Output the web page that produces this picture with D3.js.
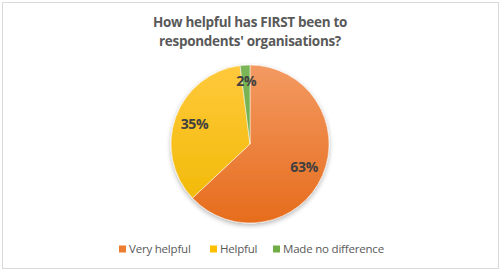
<!DOCTYPE html>
<html>
<head>
  <title>How helpful has FIRST been</title>
  <script src="https://cdnjs.cloudflare.com/ajax/libs/d3/7.8.5/d3.min.js"></script>
  <style>
    body { margin: 0; background: #fff; }
    text { font-family: "Open Sans", "DejaVu Sans", sans-serif; }
  </style>
</head>
<body>
<svg width="500" height="272" class="svg-pie"></svg>
<script type="text/javascript">
  var categories = ['Very helpful', 'Helpful', 'Made no difference']
  var values = [63, 35, 2]
  var labels = ['63%', '35%', '2%']
  var titleLines = ['How helpful has FIRST been to', "respondents' organisations?"]

  var colorsTop = ['#f39a62', '#ffc93c', '#7bb657']
  var colorsBottom = ['#e66c1c', '#f0b800', '#6aa843']
  var swatch = ['#ed7d31', '#ffc000', '#70ad47']

  var svg = d3.select('.svg-pie')
  var width = +svg.attr('width')
  var height = +svg.attr('height')

  // frame
  svg.append('rect')
    .attr('x', 2.5).attr('y', 2.5)
    .attr('width', width - 4).attr('height', height - 6)
    .attr('fill', '#fff')
    .attr('stroke', '#d9d9d9')

  var defs = svg.append('defs')
  categories.forEach(function(c, i){
    var g = defs.append('linearGradient')
      .attr('id', 'grad' + i)
      .attr('gradientUnits', 'userSpaceOnUse')
      .attr('x1', 0).attr('y1', -80).attr('x2', 0).attr('y2', 80)
    g.append('stop').attr('offset', '0%').attr('stop-color', colorsTop[i])
    g.append('stop').attr('offset', '100%').attr('stop-color', colorsBottom[i])
  })

  var shadow = defs.append('filter').attr('id', 'shadow')
    .attr('x', '-20%').attr('y', '-20%').attr('width', '140%').attr('height', '140%')
  shadow.append('feGaussianBlur').attr('in', 'SourceAlpha').attr('stdDeviation', 2.5)
  shadow.append('feOffset').attr('dx', 0).attr('dy', 2).attr('result', 'blur')
  shadow.append('feComponentTransfer').append('feFuncA').attr('type', 'linear').attr('slope', 0.3)
  var merge = shadow.append('feMerge')
  merge.append('feMergeNode')
  merge.append('feMergeNode').attr('in', 'SourceGraphic')

  // title
  svg.append('g').selectAll('text')
    .data(titleLines)
    .enter()
    .append('text')
    .attr('x', 250)
    .attr('y', function(d, i){ return 27 + i * 19 })
    .attr('text-anchor', 'middle')
    .attr('font-size', 13.5)
    .attr('letter-spacing', -0.3)
    .attr('font-weight', 'bold')
    .attr('fill', '#595959')
    .text(function(d){ return d })

  // pie
  var cx = 250, cy = 144, r = 79
  var pie = d3.pie().sort(null).value(function(d){ return d })
  var arcs = pie(values)
  var arc = d3.arc().innerRadius(0).outerRadius(r)
  var labelArc = d3.arc().innerRadius(59).outerRadius(59)

  var g = svg.append('g').attr('transform', 'translate(' + cx + ',' + cy + ')')
  var slices = g.append('g').attr('filter', 'url(#shadow)')
  slices.selectAll('path')
    .data(arcs)
    .enter()
    .append('path')
    .attr('d', arc)
    .attr('fill', function(d, i){ return 'url(#grad' + i + ')' })
    .attr('stroke', '#fff')
    .attr('stroke-width', 0.5)

  g.selectAll('text.lbl')
    .data(arcs)
    .enter()
    .append('text')
    .attr('class', 'lbl')
    .attr('transform', function(d){
      var c = labelArc.centroid(d)
      if (d.index === 2) c[1] -= 4
      return 'translate(' + c + ')'
    })
    .attr('text-anchor', 'middle')
    .attr('dy', '0.35em')
    .attr('font-size', 14)
    .attr('letter-spacing', -0.3)
    .attr('font-weight', 'bold')
    .attr('fill', '#404040')
    .text(function(d, i){ return labels[i] })

  // legend
  var legendX = [119, 210, 273]
  var legend = svg.append('g').selectAll('g')
    .data(categories)
    .enter()
    .append('g')
    .attr('transform', function(d, i){ return 'translate(' + legendX[i] + ',249)' })
  legend.append('rect')
    .attr('x', 0).attr('y', -3.5)
    .attr('width', 7).attr('height', 7)
    .attr('fill', function(d, i){ return swatch[i] })
  legend.append('text')
    .attr('x', 10)
    .attr('dy', '0.35em')
    .attr('font-size', 11.5)
    .attr('letter-spacing', -0.2)
    .attr('fill', '#595959')
    .text(function(d){ return d })
</script>
</body>
</html>
